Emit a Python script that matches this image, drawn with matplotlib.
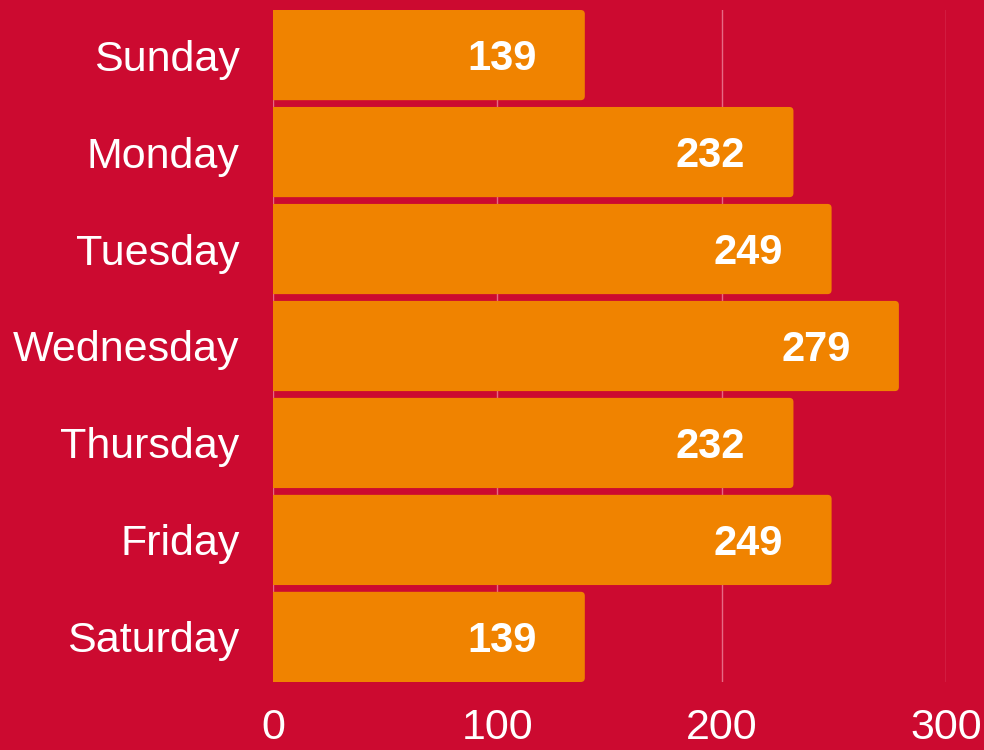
import matplotlib.pyplot as plt
from matplotlib.patches import FancyBboxPatch

days = ['Sunday', 'Monday', 'Tuesday', 'Wednesday', 'Thursday', 'Friday', 'Saturday']
counts = [139, 232, 249, 279, 232, 249, 139]
x_ticks = [0, 100, 200, 300]

bg = '#CC0A30'
bar_color = '#F08300'
bar_h = 0.93

plt.rcParams['font.family'] = ['Liberation Sans', 'DejaVu Sans']

fig = plt.figure(figsize=(9.84, 7.5), dpi=100, facecolor=bg)
ax = fig.add_axes([273 / 984, 1 - 682 / 750, (946 - 273) / 984, 672 / 750])
ax.set_facecolor(bg)

ax.set_xlim(0, 300)
ax.set_ylim(len(days) - 1 + bar_h / 2, -bar_h / 2)

# rounded right corners: box starts left of 0 and gets clipped by the axes
r = 1.8
aspect = 0.042 / r
for i, v in enumerate(counts):
    box = FancyBboxPatch((-10, i - bar_h / 2), v + 10, bar_h,
                         boxstyle=f'round,pad=0,rounding_size={r}',
                         mutation_aspect=aspect,
                         facecolor=bar_color, edgecolor='none', zorder=2)
    ax.add_patch(box)
    ax.text(v - 37, i + 0.04, str(v), ha='center', va='center', color='white',
            fontsize=30, fontweight='bold', zorder=3)

ax.set_yticks(range(len(days)))
ax.set_yticklabels(days)
ax.set_xticks(x_ticks)
ax.tick_params(axis='both', length=0, labelsize=31, colors='white')
ax.tick_params(axis='y', pad=24)
ax.tick_params(axis='x', pad=19)

ax.grid(axis='x', color='#E66A84', linewidth=1)
ax.set_axisbelow(True)
for s in ax.spines.values():
    s.set_visible(False)

fig.savefig('out.png', dpi=100, facecolor=bg)
